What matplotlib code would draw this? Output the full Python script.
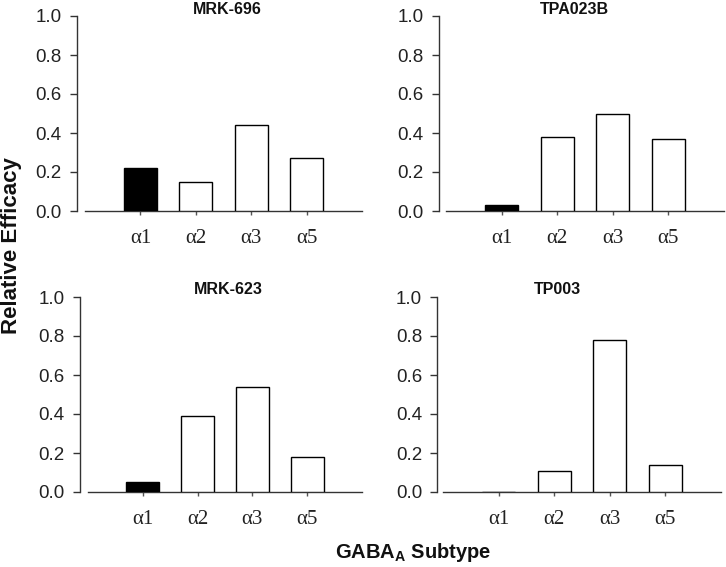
import matplotlib
matplotlib.use("Agg")
import matplotlib.pyplot as plt

plt.rcParams['mathtext.fontset'] = 'custom'
plt.rcParams['mathtext.bf'] = 'Liberation Sans:bold'
plt.rcParams['mathtext.rm'] = 'Liberation Sans'

subtypes = ["α1", "α2", "α3", "α5"]
compounds = ["MRK-696", "TPA023B", "MRK-623", "TP003"]
mrk696 = [0.22, 0.15, 0.44, 0.27]
tpa023b = [0.03, 0.38, 0.50, 0.37]
mrk623 = [0.05, 0.39, 0.54, 0.18]
tp003 = [0.0, 0.11, 0.78, 0.14]
yticks = [0.0, 0.2, 0.4, 0.6, 0.8, 1.0]
ytick_labels = ["0.0", "0.2", "0.4", "0.6", "0.8", "1.0"]

W, H = 726, 567
fig = plt.figure(figsize=(W / 100, H / 100), dpi=100)

# panel layout in pixels: (x_left, x_right, y_top(1.0), y_bottom(0.0), spine offset, title x, title y)
panels = [
    (mrk696, compounds[0], 85, 362, 16, 211, 6, 227, 9),
    (tpa023b, compounds[1], 446, 724, 16, 211, 5, 574, 9),
    (mrk623, compounds[2], 88, 362, 297, 492, 6, 228, 289),
    (tp003, compounds[3], 443, 721, 297, 492, 4, 557, 289),
]

for vals, name, xl, xr, yt, yb, off, tx, ty in panels:
    ax = fig.add_axes([xl / W, (H - yb) / H, (xr - xl) / W, (yb - yt) / H])
    for s in ["top", "right"]:
        ax.spines[s].set_visible(False)
    ax.spines["left"].set_position(("outward", off))
    ax.spines["left"].set_color("#333333")
    ax.spines["bottom"].set_color("#333333")
    ax.spines["left"].set_linewidth(1.0)
    ax.spines["bottom"].set_linewidth(1.0)
    ax.patch.set_visible(False)

    x = list(range(len(subtypes)))
    colors = ["black"] + ["white"] * (len(subtypes) - 1)
    ax.bar(x, vals, width=0.6, color=colors, edgecolor="black", linewidth=1.0, zorder=3)
    ax.set_xlim(-1, 4)
    ax.set_ylim(0, 1.0)
    ax.set_yticks(yticks)
    ax.set_xticks(x)
    ax.tick_params(axis="y", length=5, width=1, pad=6, color="#333333",
                   labelsize=13.5, labelcolor="#222222")
    ax.tick_params(axis="x", length=3, width=1, pad=10, color="#555555",
                   labelsize=15, labelcolor="#222222")
    ax.set_yticklabels(ytick_labels, family="Liberation Sans", fontsize=13.5, color="#222222")
    ax.set_xticklabels(subtypes, family="Liberation Serif", fontsize=15, color="#222222")
    fig.text(tx / W, (H - ty) / H, name, ha="center", va="center",
             family="Liberation Sans", fontweight="bold", fontsize=11.5, color="#111111")

fig.text(12 / W, (H - 246) / H, "Relative Efficacy", rotation=90, ha="center", va="center",
         family="Liberation Sans", fontweight="bold", fontsize=16, color="#111111")
fig.text(413 / W, (H - 553) / H, r"GABA$_{\mathbf{A}}$ Subtype", ha="center", va="center",
         family="Liberation Sans", fontweight="bold", fontsize=14.5, color="#111111")

fig.savefig("out.png", dpi=100)
